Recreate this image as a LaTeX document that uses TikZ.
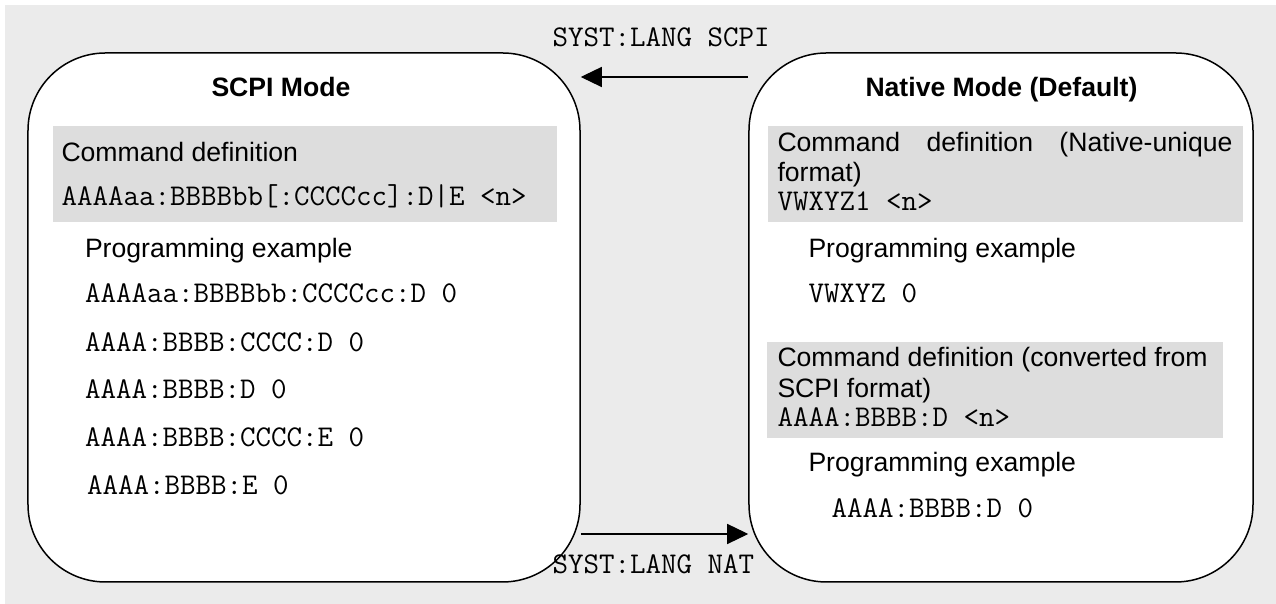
\documentclass[tikz,border=0pt]{standalone}
\usepackage{fontspec}
\setmainfont{Liberation Sans}
\usetikzlibrary{arrows.meta}
\definecolor{pagegray}{RGB}{235,235,235}
\definecolor{bandgray}{RGB}{221,221,221}
\tikzset{
  modebox/.style={draw, line width=0.6pt, fill=white, rounded corners=31pt, inner sep=0pt, minimum height=211.6pt},
  band/.style={fill=bandgray},
  txt/.style={anchor=base west, inner sep=0pt, font=\fontsize{10.64}{12}\selectfont},
  code/.style={anchor=base west, inner sep=0pt, font=\fontsize{12.04}{13}\selectfont\ttfamily},
  title/.style={anchor=base west, inner sep=0pt, font=\fontsize{10.64}{12}\selectfont\bfseries},
  arr/.style={-{Triangle[length=8.4pt,width=8pt]}, line width=0.5pt}
}
\begin{document}
\begin{tikzpicture}[x=0.4pt,y=-0.4pt]
\useasboundingbox (0,0) rectangle (1276,604);
\fill[pagegray] (5,5) rectangle (1276,604);
% the two modes
\node[modebox, minimum width=220.8pt] (scpi) at (304,317.5) {};
\node[modebox, minimum width=201.6pt] (native) at (1001,317.5) {};
% switching commands
\coordinate (toscpi) at (0,77);
\coordinate (tonat) at (0,534);
\draw[arr] (native.west |- toscpi) -- (scpi.east |- toscpi);
\draw[arr] (scpi.east |- tonat) -- (native.west |- tonat);
\node[code] (langscpi) at (552,47) {SYST:LANG SCPI};
\node[code] (langnat) at (552,574) {SYST:LANG NAT};
% SCPI side
\node[title] (scpititle) at (211,97) {SCPI Mode};
\fill[band] (53,126) rectangle (557,222);
\node[txt] (scpidef) at (61,162) {Command definition};
\node[code] (scpisyn) at (61,206) {AAAAaa:BBBBbb[:CCCCcc]:D|E <n>};
\node[txt] (scpiex) at (84.5,258) {Programming example};
\node[code] (scpiex1) at (84.5,303) {AAAAaa:BBBBbb:CCCCcc:D 0};
\node[code] (scpiex2) at (84.5,352) {AAAA:BBBB:CCCC:D 0};
\node[code] (scpiex3) at (84.5,399) {AAAA:BBBB:D 0};
\node[code] (scpiex4) at (84.5,447) {AAAA:BBBB:CCCC:E 0};
\node[code] (scpiex5) at (86.5,495) {AAAA:BBBB:E 0};
% Native side
\node[title] (nattitle) at (865,97) {Native Mode (Default)};
\fill[band] (768,126) rectangle (1243,222);
\node[txt] (natdef) at (777,152) {\makebox[182pt][s]{Command definition (Native-unique}};
\node[txt] (natdef2) at (777,182) {format)};
\node[code] (natsyn) at (777,211) {VWXYZ1 <n>};
\node[txt] (natex) at (808,258) {Programming example};
\node[code] (natex1) at (808,303) {VWXYZ 0};
\fill[band] (767,342) rectangle (1223,438);
\node[txt] (cnvdef) at (777,367) {Command definition (converted from};
\node[txt] (cnvdef2) at (777,398) {SCPI format)};
\node[code] (cnvsyn) at (777,427) {AAAA:BBBB:D <n>};
\node[txt] (cnvex) at (808,472) {Programming example};
\node[code] (cnvex1) at (831,518) {AAAA:BBBB:D 0};
\end{tikzpicture}
\end{document}
